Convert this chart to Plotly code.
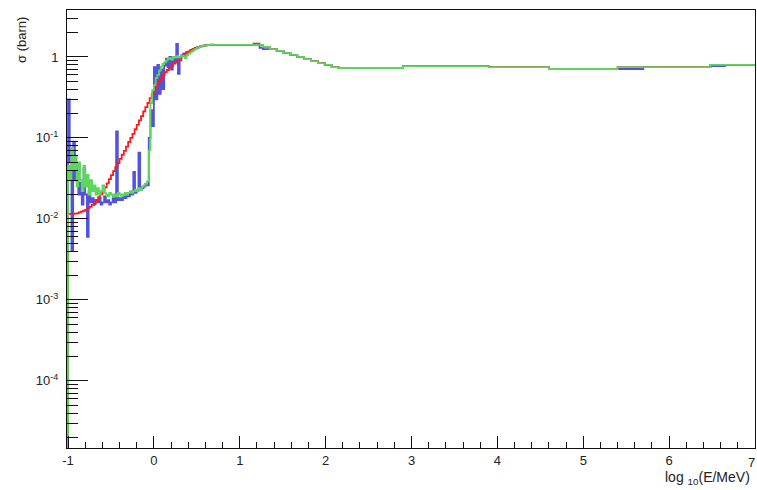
import plotly.graph_objects as go

# ---------------- data ----------------
# low-energy region: bin starts at -1.00 + 0.02*i (blue, green), -1.00 + 0.025*i (red)
blue_lo = [0.30, 0.05, 0.004, 0.09, 0.03, 0.045, 0.02, 0.028, 0.015, 0.042,
           0.02, 0.006, 0.022, 0.016, 0.018, 0.015, 0.017, 0.016, 0.018, 0.015,
           0.016, 0.019, 0.016, 0.017, 0.015, 0.016, 0.018, 0.016, 0.12, 0.017,
           0.018, 0.017, 0.019, 0.018, 0.020, 0.019, 0.021, 0.020, 0.038, 0.021,
           0.022, 0.066, 0.023, 0.024, 0.025, 0.027, 0.026, 0.10, 0.22, 0.14,
           0.75, 0.30, 0.80, 0.35, 0.70, 0.40, 0.78, 0.95, 0.75, 1.0,
           0.70, 0.95, 0.85, 1.45, 0.62, 0.90, 1.05, 1.10, 1.05, 1.15,
           1.12, 1.20, 1.22, 1.25, 1.28, 1.30, 1.33, 1.35, 1.37, 1.38,
           1.39, 1.40, 1.41, 1.41, 1.41]
green_lo = [0.045, 0.03, 0.076, 0.04, 0.06, 0.025, 0.05, 0.03, 0.022, 0.045,
            0.025, 0.035, 0.02, 0.03, 0.022, 0.026, 0.020, 0.024, 0.020, 0.022,
            0.026, 0.021, 0.020, 0.019, 0.021, 0.020, 0.019, 0.020, 0.019, 0.021,
            0.020, 0.019, 0.020, 0.021, 0.020, 0.021, 0.022, 0.021, 0.022, 0.023,
            0.022, 0.024, 0.023, 0.025, 0.026, 0.027, 0.029, 0.07, 0.27, 0.39,
            0.45, 0.55, 0.60, 0.68, 0.76, 0.82, 0.86, 0.90, 0.95, 0.97,
            0.93, 1.00, 0.98, 1.02, 0.99, 1.00, 1.04, 1.02, 0.97, 1.05,
            1.10, 1.14, 1.18, 1.22, 1.26, 1.30, 1.32, 1.35, 1.37, 1.38,
            1.39, 1.40, 1.41, 1.41, 1.41]
red_lo = [0.0115, 0.0115, 0.0115, 0.0116, 0.0117, 0.0120, 0.0123, 0.0126, 0.0129, 0.0135,
          0.0141, 0.0149, 0.0158, 0.0171, 0.0186, 0.0201, 0.0219, 0.0245, 0.0275, 0.0309,
          0.0347, 0.0390, 0.0437, 0.049, 0.055, 0.062, 0.069, 0.078, 0.089, 0.100,
          0.112, 0.128, 0.145, 0.165, 0.186, 0.212, 0.24, 0.27, 0.31, 0.35,
          0.40, 0.45, 0.50, 0.55, 0.60, 0.65, 0.69, 0.74, 0.78, 0.83,
          0.87, 0.92, 0.98, 1.04, 1.10, 1.14, 1.17, 1.22, 1.26, 1.29,
          1.32, 1.34, 1.36, 1.38, 1.40, 1.41, 1.42, 1.42]

# high-energy region: shared bin edges
hi_edges = [0.70, 1.16, 1.23, 1.27, 1.35, 1.43, 1.51, 1.59, 1.67, 1.75, 1.83, 1.91,
            1.99, 2.07, 2.15, 2.90, 3.90, 4.60, 5.40, 5.70, 6.48, 6.65, 7.00]
green_hi = [1.41, 1.41, 1.41, 1.33, 1.25, 1.19, 1.12, 1.06, 1.00, 0.94, 0.89,
            0.84, 0.80, 0.75, 0.73, 0.77, 0.75, 0.71, 0.75, 0.75, 0.80, 0.80]
blue_hi = [1.41, 1.41, 1.30, 1.25, 1.25, 1.19, 1.12, 1.06, 1.00, 0.94, 0.89,
           0.84, 0.80, 0.75, 0.73, 0.77, 0.75, 0.71, 0.71, 0.75, 0.77, 0.80]
red_hi = [1.41, 1.46, 1.41, 1.33, 1.25, 1.19, 1.12, 1.06, 1.00, 0.94, 0.89,
          0.84, 0.80, 0.75, 0.73, 0.77, 0.75, 0.71, 0.75, 0.75, 0.80, 0.80]

x_start = -1.0
baseline = 1e-7

y_tickvals = [1e-4, 1e-3, 1e-2, 1e-1, 1]
y_ticktext = ["10<sup>-4</sup>", "10<sup>-3</sup>", "10<sup>-2</sup>", "10<sup>-1</sup>", "1"]
x_tickvals = [-1, 0, 1, 2, 3, 4, 5, 6, 7]
x_ticktext = ["-1", "0", "1", "2", "3", "4", "5", "6", "7"]


def build(lo_vals, lo_step, hi_vals):
    xs = [x_start] + [round(x_start + lo_step * i, 4) for i in range(len(lo_vals))] + hi_edges[:-1] + [hi_edges[-1]]
    ys = [baseline] + list(lo_vals) + list(hi_vals) + [hi_vals[-1]]
    return xs, ys


BLUE = "#5252dc"
RED = "#ff1a1a"
GREEN = "#5fd45f"

fig = go.Figure()
for lo, step, hi, col in [(blue_lo, 0.02, blue_hi, BLUE),
                          (red_lo, 0.025, red_hi, RED),
                          (green_lo, 0.02, green_hi, GREEN)]:
    xs, ys = build(lo, step, hi)
    fig.add_trace(go.Scatter(x=xs, y=ys, mode="lines", line=dict(color=col, width=1.8, shape="hv"),
                             showlegend=False, hoverinfo="skip"))

minor_y = []
for d in range(-5, 1):
    for k in range(2, 10):
        minor_y.append(k * 10 ** d)

font = dict(family="Liberation Sans, Arial, sans-serif", size=13, color="#222")

fig.update_layout(
    width=757, height=490,
    margin=dict(l=67, r=2, t=10, b=42),
    paper_bgcolor="white", plot_bgcolor="white",
    font=font,
    xaxis=dict(range=[-1.012, 7], showgrid=False, zeroline=False,
               showline=True, linecolor="#111", linewidth=1, mirror=True,
               ticks="inside", ticklen=12, tickcolor="#111", tickwidth=1,
               tickmode="array", tickvals=x_tickvals[:-1], ticktext=x_ticktext[:-1],
               minor=dict(ticks="inside", ticklen=6, tickcolor="#111", dtick=0.2, tick0=0, showgrid=False),
               tickfont=font),
    yaxis=dict(type="log", range=[-4.83, 0.58], showgrid=False, zeroline=False,
               showline=True, linecolor="#111", linewidth=1, mirror=True,
               ticks="inside", ticklen=21, tickcolor="#111", tickwidth=1,
               tickmode="array", tickvals=y_tickvals, ticktext=y_ticktext,
               minor=dict(ticks="inside", ticklen=11, tickcolor="#111",
                          tickmode="array", tickvals=minor_y, showgrid=False),
               tickfont=font, ticklabelstandoff=5),
)

# last x tick label sits at the right page edge (would be clipped as a regular tick label)
fig.add_annotation(text=x_ticktext[-1], xref="x", yref="paper", x=x_tickvals[-1], y=0,
                   xanchor="right", yanchor="top", yshift=-5, xshift=2,
                   showarrow=False, font=font)
fig.add_annotation(text="σ (barn)", xref="paper", yref="paper",
                   x=(22 - 67) / 688, y=1 - (15 - 10) / 438, xanchor="center", yanchor="top",
                   textangle=-90, showarrow=False, font=font)
fig.add_annotation(text="log <sub>10</sub>(E/MeV)", xref="paper", yref="paper",
                   x=(752 - 67) / 688, y=-(478 - 448) / 438, xanchor="right", yanchor="middle",
                   showarrow=False, font=dict(family=font["family"], size=14, color="#222"))

fig.write_html("out.html")
